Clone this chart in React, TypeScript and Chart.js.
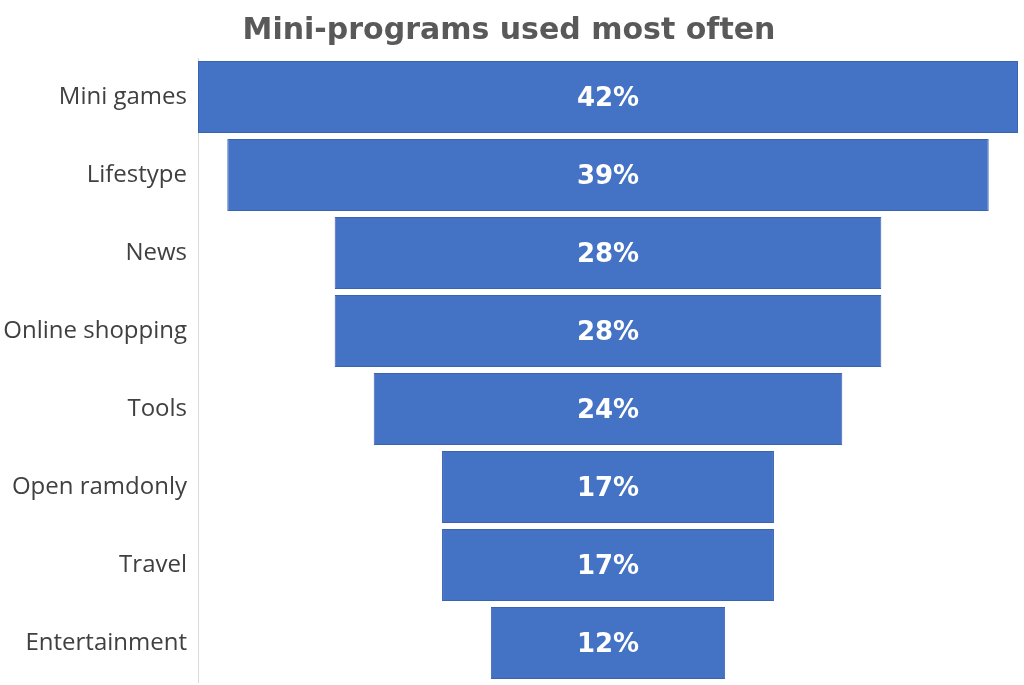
import { useEffect, useRef } from "react"
import { Chart, registerables } from "chart.js"

Chart.register(...registerables)

const categories = [
  "Mini games",
  "Lifestype",
  "News",
  "Online shopping",
  "Tools",
  "Open ramdonly",
  "Travel",
  "Entertainment",
]
const shares = [42, 39, 28, 28, 24, 17, 17, 12]

// draws the percentage in the middle of each bar
const barLabels = {
  id: "barLabels",
  afterDatasetsDraw(chart: Chart) {
    const { ctx } = chart
    const meta = chart.getDatasetMeta(0)
    ctx.save()
    ctx.fillStyle = "#ffffff"
    ctx.font = "bold 26px 'DejaVu Sans'"
    ctx.textAlign = "center"
    ctx.textBaseline = "middle"
    meta.data.forEach((bar: any, i: number) => {
      const { x, y, base } = bar.getProps(["x", "y", "base"], true)
      ctx.fillText(shares[i] + "%", (x + base) / 2, y + 2)
    })
    ctx.restore()
  },
}

export default function App() {
  const canvasRef = useRef<HTMLCanvasElement>(null)
  const chartInstance = useRef<Chart | null>(null)

  useEffect(() => {
    document.body.style.margin = "0"
    if (!canvasRef.current) return
    if (chartInstance.current) chartInstance.current.destroy()

    chartInstance.current = new Chart(canvasRef.current, {
      type: "bar",
      data: {
        labels: categories,
        datasets: [
          {
            data: shares.map((v) => [-v / 2, v / 2]) as any,
            backgroundColor: "#4472C4",
            borderColor: "#3A64B0",
            borderWidth: 1,
            borderSkipped: false,
            categoryPercentage: 1,
            barPercentage: 0.92,
          },
        ],
      },
      options: {
        indexAxis: "y",
        responsive: false,
        animation: false,
        layout: { padding: { top: 0, right: 6, bottom: 3, left: 0 } },
        plugins: {
          legend: { display: false },
          tooltip: { enabled: false },
          title: {
            display: true,
            text: "Mini-programs used most often",
            color: "#595959",
            font: { family: "'DejaVu Sans'", size: 30, weight: "bold" },
            padding: { top: 13, bottom: 9 },
          },
        },
        scales: {
          x: {
            display: false,
            min: -21,
            max: 21,
          },
          y: {
            afterFit: (scale: any) => {
              scale.width = 198
              scale.paddingTop = 0
              scale.paddingBottom = 0
            },
            grid: { display: false },
            border: { display: true, color: "#d9d9d9", width: 1 },
            ticks: {
              color: "#404040",
              padding: 3,
              font: { family: "'Open Sans'", size: 24 },
            },
          },
        },
      },
      plugins: [barLabels],
    })

    return () => {
      if (chartInstance.current) chartInstance.current.destroy()
    }
  }, [])

  return (
    <div style={{ position: "relative", width: 1024, height: 685 }}>
      <canvas ref={canvasRef} width={1024} height={685} />
    </div>
  )
}
